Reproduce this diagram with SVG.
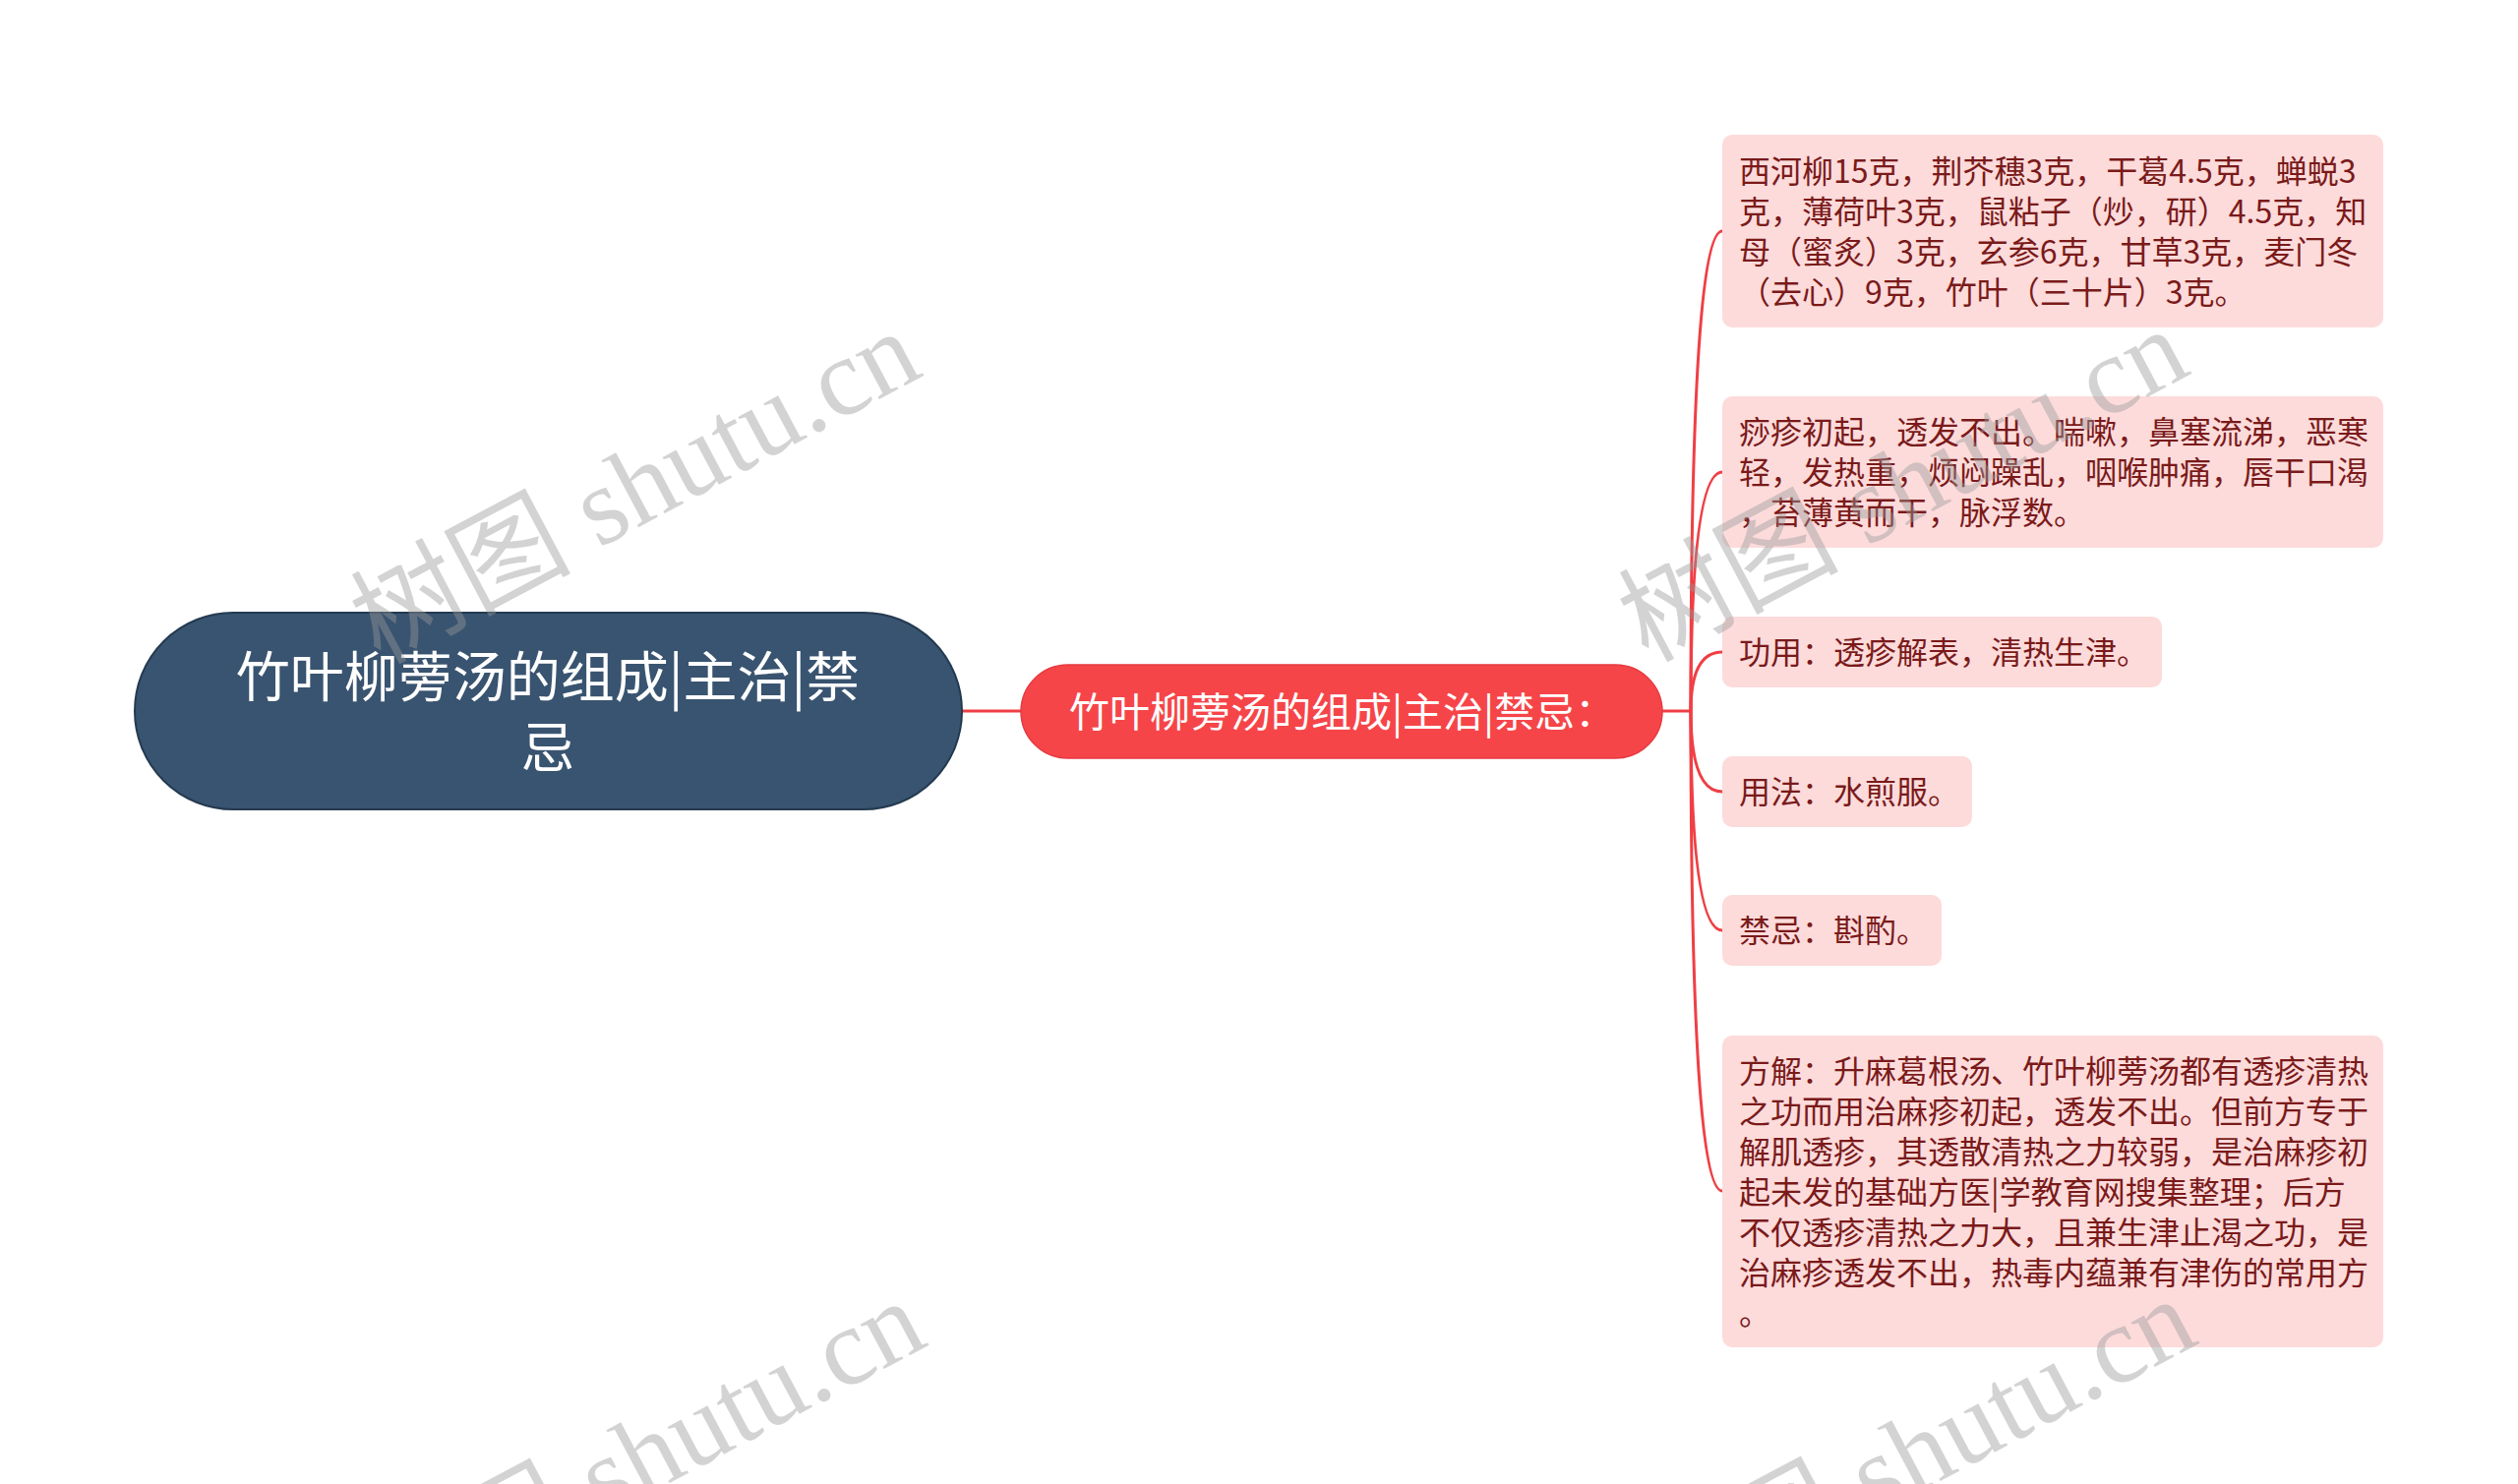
<svg xmlns="http://www.w3.org/2000/svg" width="2560" height="1509" viewBox="0 0 2560 1509">
<style>
.box{fill:#fddbdb;}
.bt{font-family:"Noto Sans CJK SC","Noto Sans",sans-serif;font-size:32px;fill:#7a1a1a;}
.conn{fill:none;stroke:#ef3f45;stroke-width:3;}
.wm{font-family:"Liberation Serif","Noto Sans CJK SC",serif;font-size:112px;fill:#999;opacity:0.42;}
</style>
<rect width="2560" height="1509" fill="#ffffff"/>
<g id="connectors">
<line class="conn" x1="978" y1="723" x2="1038" y2="723" stroke-width="4"/>
<line class="conn" x1="1690" y1="723" x2="1720" y2="723"/>
<path class="conn" d="M1719,723 Q1719,235 1751,235"/>
<path class="conn" d="M1719,723 Q1719,480 1751,480"/>
<path class="conn" d="M1719,723 Q1719,663 1751,663"/>
<path class="conn" d="M1719,723 Q1719,805 1751,805"/>
<path class="conn" d="M1719,723 Q1719,946 1751,946"/>
<path class="conn" d="M1719,723 Q1719,1211 1751,1211"/>
</g>
<g id="root">
<rect x="137" y="623" width="841" height="200" rx="100" fill="#395470" stroke="#243a50" stroke-width="2"/>
<text x="557" y="708" text-anchor="middle" font-family="Noto Sans CJK SC,sans-serif" font-size="55" fill="#ffffff">竹叶柳蒡汤的组成|主治|禁</text>
<text x="557" y="780" text-anchor="middle" font-family="Noto Sans CJK SC,sans-serif" font-size="55" fill="#ffffff">忌</text>
</g>
<g id="main">
<rect x="1038" y="676" width="652" height="95" rx="47.5" fill="#f64549" stroke="#e53a40" stroke-width="1.5"/>
<text x="1087" y="739" font-family="Noto Sans CJK SC,sans-serif" font-size="41" fill="#ffffff">竹叶柳蒡汤的组成|主治|禁忌：</text>
</g>
<g id="n1">
<rect class="box" x="1751" y="137" width="672" height="196" rx="10"/>
<text class="bt"><tspan x="1768" y="186">西河柳15克，荆芥穗3克，干葛4.5克，蝉蜕3</tspan><tspan x="1768" y="227">克，薄荷叶3克，鼠粘子（炒，研）4.5克，知</tspan><tspan x="1768" y="268">母（蜜炙）3克，玄参6克，甘草3克，麦门冬</tspan><tspan x="1768" y="309">（去心）9克，竹叶（三十片）3克。</tspan></text>
</g>
<g id="n2">
<rect class="box" x="1751" y="403" width="672" height="154" rx="10"/>
<text class="bt"><tspan x="1768" y="451">痧疹初起，透发不出。喘嗽，鼻塞流涕，恶寒</tspan><tspan x="1768" y="492">轻，发热重，烦闷躁乱，咽喉肿痛，唇干口渴</tspan><tspan x="1768" y="533">，苔薄黄而干，脉浮数。</tspan></text>
</g>
<g id="n3">
<rect class="box" x="1751" y="627" width="447" height="72" rx="10"/>
<text class="bt" x="1768" y="675">功用：透疹解表，清热生津。</text>
</g>
<g id="n4">
<rect class="box" x="1751" y="769" width="254" height="72" rx="10"/>
<text class="bt" x="1768" y="817">用法：水煎服。</text>
</g>
<g id="n5">
<rect class="box" x="1751" y="910" width="223" height="72" rx="10"/>
<text class="bt" x="1768" y="958">禁忌：斟酌。</text>
</g>
<g id="n6">
<rect class="box" x="1751" y="1053" width="672" height="317" rx="10"/>
<text class="bt"><tspan x="1768" y="1101">方解：升麻葛根汤、竹叶柳蒡汤都有透疹清热</tspan><tspan x="1768" y="1142">之功而用治麻疹初起，透发不出。但前方专于</tspan><tspan x="1768" y="1183">解肌透疹，其透散清热之力较弱，是治麻疹初</tspan><tspan x="1768" y="1224">起未发的基础方医|学教育网搜集整理；后方</tspan><tspan x="1768" y="1265">不仅透疹清热之力大，且兼生津止渴之功，是</tspan><tspan x="1768" y="1306">治麻疹透发不出，热毒内蕴兼有津伤的常用方</tspan><tspan x="1768" y="1347">。</tspan></text>
</g>
<g id="watermarks">
<text class="wm" transform="translate(386,676) rotate(-28)">树图 shutu.cn</text>
<text class="wm" transform="translate(1675,674) rotate(-28)">树图 shutu.cn</text>
<text class="wm" transform="translate(391,1662) rotate(-28)">树图 shutu.cn</text>
<text class="wm" transform="translate(1683,1660) rotate(-28)">树图 shutu.cn</text>
</g>
</svg>
